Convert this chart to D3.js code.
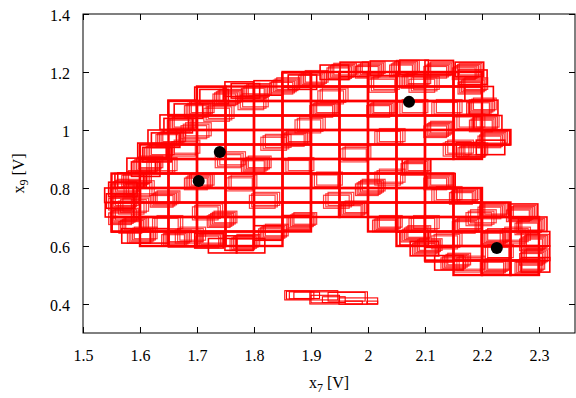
<!DOCTYPE html>
<html>
<head>
<meta charset="utf-8">
<script src="https://cdn.jsdelivr.net/npm/d3@7"></script>
<style>
    body { margin: 0; background: #fff; }
    svg { display: block; }
    text { font-family: "Liberation Serif", "Times New Roman", serif; fill: #000; }
</style>
</head>
<body>
<div id="chart"></div>
<script>
var xTicks = [1.5, 1.6, 1.7, 1.8, 1.9, 2.0, 2.1, 2.2, 2.3];
var yTicks = [0.4, 0.6, 0.8, 1.0, 1.2, 1.4];

// grid-aligned boxes (0.05 x 0.05): [bottom y, left x of each box]
var gridRows = [
    [1.15, [1.85, 1.90, 1.95, 2.00, 2.05, 2.10, 2.15]],
    [1.10, [1.70, 1.75, 1.80, 1.85, 1.90, 1.95, 2.00, 2.05, 2.10, 2.15]],
    [1.05, [1.65, 1.70, 1.75, 1.80, 1.85, 1.90, 1.95, 2.00, 2.05, 2.10, 2.15]],
    [1.00, [1.65, 1.70, 1.75, 1.80, 1.85, 1.90, 1.95, 2.00, 2.05, 2.10, 2.15]],
    [0.95, [1.65, 1.70, 1.75, 1.80, 1.85, 1.90, 1.95, 2.00, 2.05, 2.10, 2.15, 2.20]],
    [0.90, [1.60, 1.65, 1.70, 1.75, 1.80, 1.85, 1.90, 1.95, 2.00, 2.05, 2.10, 2.15]],
    [0.85, [1.60, 1.65, 1.70, 1.75, 1.80, 1.85, 1.90, 1.95, 2.00, 2.05]],
    [0.80, [1.55, 1.60, 1.65, 1.70, 1.75, 1.80, 1.85, 1.90, 1.95, 2.00, 2.05, 2.10]],
    [0.75, [1.55, 1.60, 1.65, 1.70, 1.75, 1.80, 1.85, 1.90, 1.95, 2.00, 2.05, 2.10, 2.15]],
    [0.70, [1.55, 1.60, 1.65, 1.70, 1.75, 1.80, 1.85, 1.90, 1.95, 2.00, 2.05, 2.10, 2.15, 2.20]],
    [0.65, [1.55, 1.60, 1.65, 1.70, 1.75, 1.80, 1.85, 2.00, 2.05, 2.10, 2.15, 2.20, 2.25]],
    [0.60, [1.60, 1.65, 1.70, 1.75, 1.80, 2.05, 2.10, 2.15, 2.20, 2.25]],
    [0.55, [2.10, 2.15, 2.20, 2.25]],
    [0.50, [2.15, 2.20, 2.25]]
];

// boxes sticking out of the grid along the outline: [x0, y0, x1, y1]
var fringeBoxes = [
    [1.538, 0.750, 1.588, 0.800], [1.539, 0.700, 1.589, 0.750], [1.541, 0.730, 1.591, 0.780],
    [1.545, 0.770, 1.595, 0.820], [1.551, 0.650, 1.601, 0.700], [1.556, 0.800, 1.606, 0.850],
    [1.561, 0.802, 1.611, 0.852], [1.577, 0.853, 1.627, 0.903], [1.585, 0.840, 1.635, 0.890],
    [1.596, 0.905, 1.646, 0.955], [1.605, 0.890, 1.655, 0.940], [1.614, 0.950, 1.664, 1.000],
    [1.620, 0.940, 1.670, 0.990], [1.635, 1.002, 1.685, 1.052], [1.642, 0.990, 1.692, 1.040],
    [1.649, 1.053, 1.699, 1.103], [1.660, 1.040, 1.710, 1.090], [1.696, 1.098, 1.746, 1.148],
    [1.705, 1.090, 1.755, 1.140], [1.749, 1.116, 1.799, 1.166], [1.760, 1.110, 1.810, 1.160],
    [1.800, 1.120, 1.850, 1.170], [1.849, 1.147, 1.899, 1.197], [1.860, 1.140, 1.910, 1.190],
    [1.916, 1.174, 1.966, 1.224], [1.951, 1.184, 2.001, 1.234], [2.004, 1.188, 2.054, 1.238],
    [2.056, 1.191, 2.106, 1.241], [2.100, 1.190, 2.150, 1.240], [2.153, 1.184, 2.203, 1.234],
    [2.159, 1.157, 2.209, 1.207], [2.170, 1.100, 2.220, 1.150], [2.178, 1.053, 2.228, 1.103],
    [2.185, 1.000, 2.235, 1.050], [2.199, 0.948, 2.249, 0.998], [2.190, 0.915, 2.240, 0.965],
    [2.155, 0.907, 2.205, 0.957], [2.060, 0.850, 2.110, 0.900], [2.103, 0.800, 2.153, 0.850],
    [2.148, 0.750, 2.198, 0.800], [2.197, 0.700, 2.247, 0.750], [2.248, 0.695, 2.298, 0.745],
    [2.264, 0.650, 2.314, 0.700], [2.269, 0.600, 2.319, 0.650], [2.269, 0.550, 2.319, 0.600],
    [2.269, 0.510, 2.319, 0.560], [2.250, 0.500, 2.300, 0.550], [2.117, 0.517, 2.167, 0.567],
    [2.100, 0.545, 2.150, 0.595], [2.074, 0.566, 2.124, 0.616], [2.056, 0.603, 2.106, 0.653],
    [2.049, 0.648, 2.099, 0.698], [1.800, 0.620, 1.850, 0.670], [1.769, 0.576, 1.819, 0.626],
    [1.749, 0.585, 1.799, 0.635], [1.720, 0.576, 1.770, 0.626], [1.696, 0.593, 1.746, 0.643],
    [1.650, 0.597, 1.700, 0.647], [1.568, 0.610, 1.618, 0.660], [1.600, 0.610, 1.650, 0.660],
    [1.850, 0.655, 1.900, 0.705], [1.550, 0.648, 1.600, 0.698]
];

// shifted boxes inside the set: [x0, y0, x1, y1]
var innerBoxes = [
    [1.570, 0.720, 1.615, 0.765], [1.566, 0.715, 1.611, 0.760], [1.562, 0.710, 1.607, 0.755],
    [1.580, 0.780, 1.625, 0.825], [1.576, 0.775, 1.621, 0.820], [1.572, 0.770, 1.617, 0.815],
    [1.620, 0.860, 1.665, 0.905], [1.616, 0.855, 1.661, 0.900], [1.612, 0.850, 1.657, 0.895],
    [1.660, 0.920, 1.705, 0.965], [1.656, 0.915, 1.701, 0.960], [1.652, 0.910, 1.697, 0.955],
    [1.680, 0.980, 1.725, 1.025], [1.676, 0.975, 1.721, 1.020], [1.672, 0.970, 1.717, 1.015],
    [1.720, 1.040, 1.765, 1.085], [1.716, 1.035, 1.761, 1.080], [1.712, 1.030, 1.757, 1.075],
    [1.780, 1.080, 1.825, 1.125], [1.776, 1.075, 1.821, 1.120], [1.772, 1.070, 1.817, 1.115],
    [1.630, 0.660, 1.675, 0.705], [1.626, 0.655, 1.671, 0.700], [1.622, 0.650, 1.667, 0.695],
    [1.700, 0.700, 1.745, 0.745], [1.696, 0.695, 1.741, 0.740], [1.692, 0.690, 1.737, 0.735],
    [1.760, 0.800, 1.805, 0.845], [1.756, 0.795, 1.801, 0.840], [1.752, 0.790, 1.797, 0.835],
    [1.740, 0.880, 1.785, 0.925], [1.736, 0.875, 1.781, 0.920], [1.732, 0.870, 1.777, 0.915],
    [1.820, 0.940, 1.865, 0.985], [1.816, 0.935, 1.861, 0.980], [1.812, 0.930, 1.857, 0.975],
    [1.800, 0.740, 1.845, 0.785], [1.796, 0.735, 1.841, 0.780], [1.792, 0.730, 1.837, 0.775],
    [1.670, 0.620, 1.715, 0.665], [1.666, 0.615, 1.711, 0.660], [1.662, 0.610, 1.707, 0.655],
    [1.880, 1.000, 1.925, 1.045], [1.876, 0.995, 1.921, 1.040], [1.872, 0.990, 1.917, 1.035],
    [1.920, 1.100, 1.965, 1.145], [1.916, 1.095, 1.961, 1.140], [1.912, 1.090, 1.957, 1.135],
    [1.960, 0.900, 2.005, 0.945], [1.956, 0.895, 2.001, 0.940], [1.952, 0.890, 1.997, 0.935],
    [1.910, 0.810, 1.955, 0.855], [1.906, 0.805, 1.951, 0.850], [1.902, 0.800, 1.947, 0.845],
    [2.020, 0.960, 2.065, 1.005], [2.016, 0.955, 2.061, 1.000], [2.012, 0.950, 2.057, 0.995],
    [2.010, 1.140, 2.055, 1.185], [2.006, 1.135, 2.051, 1.180], [2.002, 1.130, 2.047, 1.175],
    [1.930, 0.740, 1.975, 0.785], [1.926, 0.735, 1.971, 0.780], [1.922, 0.730, 1.967, 0.775],
    [1.860, 0.860, 1.905, 0.905], [1.856, 0.855, 1.901, 0.900], [1.852, 0.850, 1.897, 0.895],
    [2.080, 1.140, 2.125, 1.185], [2.076, 1.135, 2.121, 1.180], [2.072, 1.130, 2.117, 1.175],
    [2.120, 1.060, 2.165, 1.105], [2.116, 1.055, 2.161, 1.100], [2.112, 1.050, 2.157, 1.095],
    [2.160, 1.010, 2.205, 1.055], [2.156, 1.005, 2.201, 1.050], [2.152, 1.000, 2.197, 1.045],
    [2.140, 0.920, 2.185, 0.965], [2.136, 0.915, 2.181, 0.960], [2.132, 0.910, 2.177, 0.955],
    [2.060, 1.060, 2.105, 1.105], [2.056, 1.055, 2.101, 1.100], [2.052, 1.050, 2.097, 1.095],
    [2.080, 0.660, 2.125, 0.705], [2.076, 0.655, 2.121, 0.700], [2.072, 0.650, 2.117, 0.695],
    [2.120, 0.600, 2.165, 0.645], [2.116, 0.595, 2.161, 0.640], [2.112, 0.590, 2.157, 0.635],
    [2.180, 0.680, 2.225, 0.725], [2.176, 0.675, 2.221, 0.720], [2.172, 0.670, 2.217, 0.715],
    [2.210, 0.560, 2.255, 0.605], [2.206, 0.555, 2.251, 0.600], [2.202, 0.550, 2.247, 0.595],
    [2.240, 0.620, 2.285, 0.665], [2.236, 0.615, 2.281, 0.660], [2.232, 0.610, 2.277, 0.655],
    [2.160, 0.520, 2.205, 0.565], [2.156, 0.515, 2.201, 0.560], [2.152, 0.510, 2.197, 0.555],
    [2.120, 0.760, 2.165, 0.805], [2.116, 0.755, 2.161, 0.800], [2.112, 0.750, 2.157, 0.795],
    [2.020, 0.820, 2.065, 0.865], [2.016, 0.815, 2.061, 0.860], [2.012, 0.810, 2.057, 0.855]
];

// bundles of small boxes sliding down-left, one bundle per line
var stairBoxes = [
    [1.557,0.690,1.597,0.730],[1.554,0.686,1.594,0.726],[1.551,0.682,1.591,0.722],[1.548,0.678,1.588,0.718],[1.545,0.674,1.585,0.714],
    [1.557,0.740,1.597,0.780],[1.554,0.736,1.594,0.776],[1.551,0.732,1.591,0.772],[1.548,0.728,1.588,0.768],[1.545,0.724,1.585,0.764],
    [1.560,0.790,1.600,0.830],[1.557,0.786,1.597,0.826],[1.554,0.782,1.594,0.822],[1.551,0.778,1.591,0.818],[1.548,0.774,1.588,0.814],
    [1.575,0.660,1.615,0.700],[1.572,0.656,1.612,0.696],[1.569,0.652,1.609,0.692],[1.566,0.648,1.606,0.688],[1.563,0.644,1.603,0.684],
    [1.580,0.820,1.620,0.860],[1.577,0.816,1.617,0.856],[1.574,0.812,1.614,0.852],[1.571,0.808,1.611,0.848],[1.568,0.804,1.608,0.844],
    [1.600,0.870,1.640,0.910],[1.597,0.866,1.637,0.906],[1.594,0.862,1.634,0.902],[1.591,0.858,1.631,0.898],[1.588,0.854,1.628,0.894],
    [1.620,0.915,1.660,0.955],[1.617,0.911,1.657,0.951],[1.614,0.907,1.654,0.947],[1.611,0.903,1.651,0.943],[1.608,0.899,1.648,0.939],
    [1.640,0.960,1.680,1.000],[1.637,0.956,1.677,0.996],[1.634,0.952,1.674,0.992],[1.631,0.948,1.671,0.988],[1.628,0.944,1.668,0.984],
    [1.660,1.010,1.700,1.050],[1.657,1.006,1.697,1.046],[1.654,1.002,1.694,1.042],[1.651,0.998,1.691,1.038],[1.648,0.994,1.688,1.034],
    [1.690,1.060,1.730,1.100],[1.687,1.056,1.727,1.096],[1.684,1.052,1.724,1.092],[1.681,1.048,1.721,1.088],[1.678,1.044,1.718,1.084],
    [1.740,1.100,1.780,1.140],[1.737,1.096,1.777,1.136],[1.734,1.092,1.774,1.132],[1.731,1.088,1.771,1.128],[1.728,1.084,1.768,1.124],
    [1.790,1.120,1.830,1.160],[1.787,1.116,1.827,1.156],[1.784,1.112,1.824,1.152],[1.781,1.108,1.821,1.148],[1.778,1.104,1.818,1.144],
    [1.840,1.140,1.880,1.180],[1.837,1.136,1.877,1.176],[1.834,1.132,1.874,1.172],[1.831,1.128,1.871,1.168],[1.828,1.124,1.868,1.164],
    [1.890,1.165,1.930,1.205],[1.887,1.161,1.927,1.201],[1.884,1.157,1.924,1.197],[1.881,1.153,1.921,1.193],[1.878,1.149,1.918,1.189],
    [1.940,1.190,1.980,1.230],[1.937,1.186,1.977,1.226],[1.934,1.182,1.974,1.222],[1.931,1.178,1.971,1.218],[1.928,1.174,1.968,1.214],
    [1.990,1.195,2.030,1.235],[1.987,1.191,2.027,1.231],[1.984,1.187,2.024,1.227],[1.981,1.183,2.021,1.223],[1.978,1.179,2.018,1.219],
    [2.050,1.200,2.090,1.240],[2.047,1.196,2.087,1.236],[2.044,1.192,2.084,1.232],[2.041,1.188,2.081,1.228],[2.038,1.184,2.078,1.224],
    [2.110,1.195,2.150,1.235],[2.107,1.191,2.147,1.231],[2.104,1.187,2.144,1.227],[2.101,1.183,2.141,1.223],[2.098,1.179,2.138,1.219],
    [2.160,1.190,2.200,1.230],[2.157,1.186,2.197,1.226],[2.154,1.182,2.194,1.222],[2.151,1.178,2.191,1.218],[2.148,1.174,2.188,1.214],
    [2.170,1.140,2.210,1.180],[2.167,1.136,2.207,1.176],[2.164,1.132,2.204,1.172],[2.161,1.128,2.201,1.168],[2.158,1.124,2.198,1.164],
    [2.185,1.070,2.225,1.110],[2.182,1.066,2.222,1.106],[2.179,1.062,2.219,1.102],[2.176,1.058,2.216,1.098],[2.173,1.054,2.213,1.094],
    [2.190,1.010,2.230,1.050],[2.187,1.006,2.227,1.046],[2.184,1.002,2.224,1.042],[2.181,0.998,2.221,1.038],[2.178,0.994,2.218,1.034],
    [2.205,0.955,2.245,0.995],[2.202,0.951,2.242,0.991],[2.199,0.947,2.239,0.987],[2.196,0.943,2.236,0.983],[2.193,0.939,2.233,0.979],
    [2.170,0.915,2.210,0.955],[2.167,0.911,2.207,0.951],[2.164,0.907,2.204,0.947],[2.161,0.903,2.201,0.943],[2.158,0.899,2.198,0.939],
    [2.070,0.860,2.110,0.900],[2.067,0.856,2.107,0.896],[2.064,0.852,2.104,0.892],[2.061,0.848,2.101,0.888],[2.058,0.844,2.098,0.884],
    [2.110,0.810,2.150,0.850],[2.107,0.806,2.147,0.846],[2.104,0.802,2.144,0.842],[2.101,0.798,2.141,0.838],[2.098,0.794,2.138,0.834],
    [2.155,0.760,2.195,0.800],[2.152,0.756,2.192,0.796],[2.149,0.752,2.189,0.792],[2.146,0.748,2.186,0.788],[2.143,0.744,2.183,0.784],
    [2.205,0.710,2.245,0.750],[2.202,0.706,2.242,0.746],[2.199,0.702,2.239,0.742],[2.196,0.698,2.236,0.738],[2.193,0.694,2.233,0.734],
    [2.255,0.700,2.295,0.740],[2.252,0.696,2.292,0.736],[2.249,0.692,2.289,0.732],[2.246,0.688,2.286,0.728],[2.243,0.684,2.283,0.724],
    [2.270,0.655,2.310,0.695],[2.267,0.651,2.307,0.691],[2.264,0.647,2.304,0.687],[2.261,0.643,2.301,0.683],[2.258,0.639,2.298,0.679],
    [2.278,0.600,2.318,0.640],[2.275,0.596,2.315,0.636],[2.272,0.592,2.312,0.632],[2.269,0.588,2.309,0.628],[2.266,0.584,2.306,0.624],
    [2.278,0.550,2.318,0.590],[2.275,0.546,2.315,0.586],[2.272,0.542,2.312,0.582],[2.269,0.538,2.309,0.578],[2.266,0.534,2.306,0.574],
    [2.270,0.520,2.310,0.560],[2.267,0.516,2.307,0.556],[2.264,0.512,2.304,0.552],[2.261,0.508,2.301,0.548],[2.258,0.504,2.298,0.544],
    [2.210,0.520,2.250,0.560],[2.207,0.516,2.247,0.556],[2.204,0.512,2.244,0.552],[2.201,0.508,2.241,0.548],[2.198,0.504,2.238,0.544],
    [2.140,0.535,2.180,0.575],[2.137,0.531,2.177,0.571],[2.134,0.527,2.174,0.567],[2.131,0.523,2.171,0.563],[2.128,0.519,2.168,0.559],
    [2.090,0.585,2.130,0.625],[2.087,0.581,2.127,0.621],[2.084,0.577,2.124,0.617],[2.081,0.573,2.121,0.613],[2.078,0.569,2.118,0.609],
    [2.070,0.630,2.110,0.670],[2.067,0.626,2.107,0.666],[2.064,0.622,2.104,0.662],[2.061,0.618,2.101,0.658],[2.058,0.614,2.098,0.654],
    [2.020,0.665,2.060,0.705],[2.017,0.661,2.057,0.701],[2.014,0.657,2.054,0.697],[2.011,0.653,2.051,0.693],[2.008,0.649,2.048,0.689],
    [1.960,0.715,2.000,0.755],[1.957,0.711,1.997,0.751],[1.954,0.707,1.994,0.747],[1.951,0.703,1.991,0.743],[1.948,0.699,1.988,0.739],
    [1.870,0.675,1.910,0.715],[1.867,0.671,1.907,0.711],[1.864,0.667,1.904,0.707],[1.861,0.663,1.901,0.703],[1.858,0.659,1.898,0.699],
    [1.820,0.635,1.860,0.675],[1.817,0.631,1.857,0.671],[1.814,0.627,1.854,0.667],[1.811,0.623,1.851,0.663],[1.808,0.619,1.848,0.659],
    [1.770,0.600,1.810,0.640],[1.767,0.596,1.807,0.636],[1.764,0.592,1.804,0.632],[1.761,0.588,1.801,0.628],[1.758,0.584,1.798,0.624],
    [1.710,0.610,1.750,0.650],[1.707,0.606,1.747,0.646],[1.704,0.602,1.744,0.642],[1.701,0.598,1.741,0.638],[1.698,0.594,1.738,0.634],
    [1.650,0.615,1.690,0.655],[1.647,0.611,1.687,0.651],[1.644,0.607,1.684,0.647],[1.641,0.603,1.681,0.643],[1.638,0.599,1.678,0.639],
    [1.590,0.625,1.630,0.665],[1.587,0.621,1.627,0.661],[1.584,0.617,1.624,0.657],[1.581,0.613,1.621,0.653],[1.578,0.609,1.618,0.649],
    [1.630,0.750,1.670,0.790],[1.627,0.746,1.667,0.786],[1.624,0.742,1.664,0.782],[1.621,0.738,1.661,0.778],[1.618,0.734,1.658,0.774],
    [1.690,0.810,1.730,0.850],[1.687,0.806,1.727,0.846],[1.684,0.802,1.724,0.842],[1.681,0.798,1.721,0.838],[1.678,0.794,1.718,0.834],
    [1.790,0.870,1.830,0.910],[1.787,0.866,1.827,0.906],[1.784,0.862,1.824,0.902],[1.781,0.858,1.821,0.898],[1.778,0.854,1.818,0.894],
    [1.860,0.960,1.900,1.000],[1.857,0.956,1.897,0.996],[1.854,0.952,1.894,0.992],[1.851,0.948,1.891,0.988],[1.848,0.944,1.888,0.984],
    [1.910,1.060,1.950,1.100],[1.907,1.056,1.947,1.096],[1.904,1.052,1.944,1.092],[1.901,1.048,1.941,1.088],[1.898,1.044,1.938,1.084],
    [2.010,1.060,2.050,1.100],[2.007,1.056,2.047,1.096],[2.004,1.052,2.044,1.092],[2.001,1.048,2.041,1.088],[1.998,1.044,2.038,1.084],
    [2.070,1.160,2.110,1.200],[2.067,1.156,2.107,1.196],[2.064,1.152,2.104,1.192],[2.061,1.148,2.101,1.188],[2.058,1.144,2.098,1.184],
    [2.110,0.990,2.150,1.030],[2.107,0.986,2.147,1.026],[2.104,0.982,2.144,1.022],[2.101,0.978,2.141,1.018],[2.098,0.974,2.138,1.014],
    [1.990,0.790,2.030,0.830],[1.987,0.786,2.027,0.826],[1.984,0.782,2.024,0.822],[1.981,0.778,2.021,0.818],[1.978,0.774,2.018,0.814],
    [2.160,0.660,2.200,0.700],[2.157,0.656,2.197,0.696],[2.154,0.652,2.194,0.692],[2.151,0.648,2.191,0.688],[2.148,0.644,2.188,0.684],
    [2.210,0.620,2.250,0.660],[2.207,0.616,2.247,0.656],[2.204,0.612,2.244,0.652],[2.201,0.608,2.241,0.648],[2.198,0.604,2.238,0.644],
    [1.730,0.680,1.770,0.720],[1.727,0.676,1.767,0.716],[1.724,0.672,1.764,0.712],[1.721,0.668,1.761,0.708],[1.718,0.664,1.758,0.704]
];

// small detached set near the bottom
var stripBoxes = [
    [1.854, 0.414, 1.947, 0.446], [1.857, 0.417, 1.900, 0.444], [1.862, 0.418, 1.905, 0.442],
    [1.870, 0.419, 1.915, 0.441], [1.898, 0.400, 1.999, 0.442], [1.900, 0.404, 1.950, 0.430],
    [1.920, 0.405, 1.960, 0.425], [1.949, 0.399, 2.017, 0.421], [1.960, 0.400, 1.990, 0.410],
    [1.998, 0.401, 2.017, 0.410], [1.930, 0.410, 1.995, 0.440]
];

var points = [[1.703, 0.824], [1.740, 0.924], [2.072, 1.097], [2.226, 0.593]];

var width = 576, height = 398;
var margin = {left: 83, right: 1, top: 14, bottom: 65};

var svg = d3.select('#chart').append('svg')
    .attr('width', width)
    .attr('height', height);

var x = d3.scaleLinear()
    .domain([1.5, 2.3632])
    .range([margin.left, width - margin.right]);

var y = d3.scaleLinear()
    .domain([0.3, 1.4])
    .range([height - margin.bottom, margin.top]);

/**
 * Draw a list of [x0, y0, x1, y1] boxes as outlined rectangles.
 */
function drawBoxes(selection, boxes, strokeWidth, opacity) {
    selection.append('g')
        .selectAll('rect')
            .data(boxes)
        .enter().append('rect')
            .attr('x', function (d) { return x(d[0]); })
            .attr('y', function (d) { return y(d[3]); })
            .attr('width', function (d) { return x(d[2]) - x(d[0]); })
            .attr('height', function (d) { return y(d[1]) - y(d[3]); })
            .style('fill', 'none')
            .style('stroke', '#ff0000')
            .style('stroke-width', strokeWidth)
            .style('stroke-opacity', opacity);
}

var cells = [];
gridRows.forEach(function (row) {
    row[1].forEach(function (x0) {
        cells.push([x0, row[0], x0 + 0.05, row[0] + 0.05]);
    });
});

var plot = svg.append('g').attr('class', 'boxes');
drawBoxes(plot, innerBoxes, 1.2, 0.75);
drawBoxes(plot, stairBoxes, 1.2, 0.8);
drawBoxes(plot, fringeBoxes, 1.6, 1);
drawBoxes(plot, stripBoxes, 1.1, 1);
drawBoxes(plot, cells, 2.4, 1);

plot.append('g')
    .selectAll('circle')
        .data(points)
    .enter().append('circle')
        .attr('cx', function (d) { return x(d[0]); })
        .attr('cy', function (d) { return y(d[1]); })
        .attr('r', 6)
        .style('fill', '#000');

// axes: ticks point inwards, mirrored on top and right
var fmt = d3.format('~g');

var xAxis = svg.append('g')
    .attr('transform', 'translate(0,' + y.range()[0] + ')')
    .call(d3.axisBottom(x).tickValues(xTicks).tickFormat(fmt).tickSize(-6).tickPadding(17));

var yAxis = svg.append('g')
    .attr('transform', 'translate(' + x.range()[0] + ',0)')
    .call(d3.axisLeft(y).tickValues(yTicks).tickFormat(fmt).tickSize(-6).tickPadding(13));

svg.append('g')
    .attr('transform', 'translate(0,' + y.range()[1] + ')')
    .call(d3.axisTop(x).tickValues(xTicks).tickFormat('').tickSize(-6));

svg.append('g')
    .attr('transform', 'translate(' + x.range()[1] + ',0)')
    .call(d3.axisRight(y).tickValues(yTicks).tickFormat('').tickSize(-6));

svg.selectAll('.domain').remove();
svg.selectAll('.tick line').style('stroke', '#000');
svg.selectAll('.tick text')
    .style('font-family', '"Liberation Serif", "Times New Roman", serif')
    .style('font-size', '16px')
    .style('fill', '#000');
yAxis.selectAll('.tick text').attr('dy', '0.38em');

svg.append('rect')
    .attr('x', x.range()[0])
    .attr('y', y.range()[1])
    .attr('width', x.range()[1] - x.range()[0])
    .attr('height', y.range()[0] - y.range()[1])
    .style('fill', 'none')
    .style('stroke', '#000')
    .style('stroke-width', 1);

var xLabel = svg.append('text')
    .attr('x', (x.range()[0] + x.range()[1]) / 2)
    .attr('y', 388)
    .attr('text-anchor', 'middle')
    .style('font-size', '16px');
xLabel.append('tspan').text('x');
xLabel.append('tspan').attr('dy', 4).style('font-size', '12px').text('7');
xLabel.append('tspan').attr('dy', -4).text(' [V]');

var yLabel = svg.append('text')
    .attr('transform', 'translate(24,' + (y.range()[0] + y.range()[1]) / 2 + ') rotate(-90)')
    .attr('text-anchor', 'middle')
    .style('font-size', '16px');
yLabel.append('tspan').text('x');
yLabel.append('tspan').attr('dy', 4).style('font-size', '12px').text('9');
yLabel.append('tspan').attr('dy', -4).text(' [V]');
</script>
</body>
</html>
